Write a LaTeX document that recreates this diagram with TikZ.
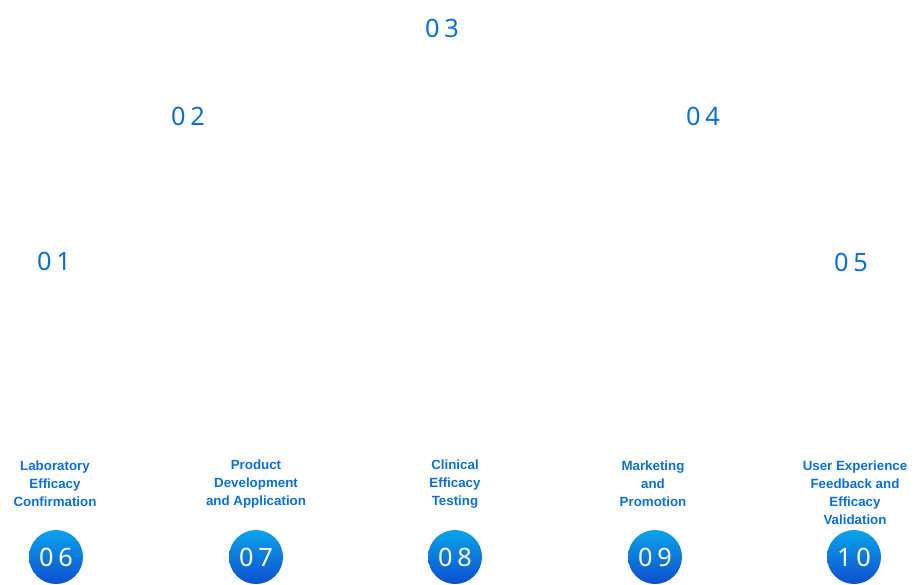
\documentclass[tikz,border=0pt]{standalone}
\usepackage{fontspec}
\setmainfont{Liberation Sans}
\newfontfamily\numfont{Noto Sans}[LetterSpace=18]
\definecolor{stepblue}{HTML}{0A6FD6}
\definecolor{ballTop}{HTML}{0AA3EA}
\definecolor{ballBot}{HTML}{0F4FCF}
\begin{document}
\begin{tikzpicture}[x=0.75pt, y=-0.75pt,
    topnum/.style={text=stepblue, font=\numfont\fontsize{19}{20}\selectfont},
    ball/.style={circle, minimum size=40.5pt, inner sep=0pt, top color=ballTop, bottom color=ballBot, text=white, font=\numfont\fontsize{19}{20}\selectfont},
    steplabel/.style={text=stepblue, font=\bfseries\fontsize{10}{13.5}\selectfont, align=center}]
    \useasboundingbox (0,0) rectangle (918,585);
    % numbers on the arc
    \node [topnum, name=n01] at (54, 261) {01};
    \node [topnum, name=n02] at (188, 116) {02};
    \node [topnum, name=n03] at (442, 28) {03};
    \node [topnum, name=n04] at (703, 116) {04};
    \node [topnum, name=n05] at (851, 262) {05};
    % bottom row
    \node [ball, name=b06] at (56, 557) {06};
    \node [ball, name=b07] at (256, 557) {07};
    \node [ball, name=b08] at (455, 557) {08};
    \node [ball, name=b09] at (655, 557) {09};
    \node [ball, name=b10] at (854, 557) {10};
    \node [steplabel, name=l06] at (55, 484) {Laboratory\\Efficacy\\Confirmation};
    \node [steplabel, name=l07] at (256, 484) {Product\\Development\\and Application};
    \node [steplabel, name=l08] at (455, 484) {Clinical\\Efficacy\\Testing};
    \node [steplabel, name=l09] at (653, 484) {Marketing\\and\\Promotion};
    \node [steplabel, name=l10] at (855, 493) {User Experience\\Feedback and\\Efficacy\\Validation};
\end{tikzpicture}
\end{document}
